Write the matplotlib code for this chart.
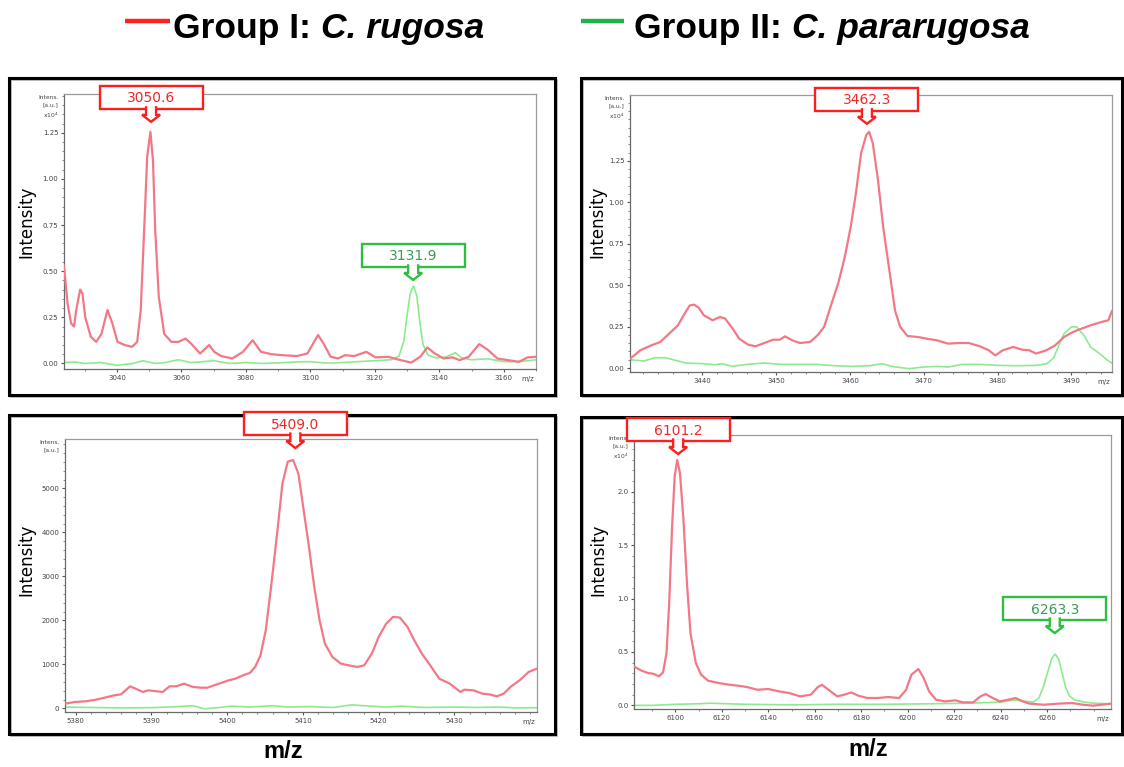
import numpy as np
import matplotlib
matplotlib.use("Agg")
import matplotlib.pyplot as plt
from matplotlib.patches import Rectangle, Polygon
from matplotlib.lines import Line2D
from matplotlib.transforms import IdentityTransform
from matplotlib.ticker import MultipleLocator, FixedLocator

# ---------------- data ----------------
legend_groups = ["Group I: ", "Group II: "]
legend_species = ["C. rugosa", "C. pararugosa"]

tl_red_mz = [3023.6, 3024.7, 3025.8, 3026.7, 3027.4, 3028.6, 3029.3, 3030.2, 3031.9, 3033.6, 3035.2, 3037.1, 3038.6, 3040.2, 3042.4, 3044.7, 3046.3, 3047.4, 3048.6, 3049.4, 3050.4, 3051.2, 3051.9, 3053.0, 3054.7, 3056.9, 3059.1, 3061.3, 3063.0, 3065.8, 3068.6, 3070.2, 3072.4, 3075.8, 3079.1, 3082.1, 3084.7, 3088.0, 3091.3, 3095.8, 3099.1, 3102.4, 3104.1, 3106.3, 3108.6, 3110.8, 3113.6, 3117.4, 3120.2, 3124.1, 3128.0, 3131.3, 3134.1, 3136.3, 3138.6, 3141.3, 3144.1, 3146.3, 3149.1, 3152.4, 3155.2, 3158.0, 3161.3, 3164.7, 3167.4, 3170.0]
tl_red_int = [0.53, 0.325, 0.217, 0.20, 0.29, 0.40, 0.38, 0.25, 0.145, 0.117, 0.16, 0.29, 0.217, 0.117, 0.10, 0.09, 0.117, 0.29, 0.78, 1.12, 1.255, 1.10, 0.72, 0.36, 0.16, 0.117, 0.117, 0.135, 0.108, 0.054, 0.10, 0.063, 0.04, 0.027, 0.063, 0.126, 0.063, 0.05, 0.045, 0.04, 0.054, 0.154, 0.108, 0.036, 0.027, 0.045, 0.04, 0.063, 0.033, 0.036, 0.018, 0.005, 0.036, 0.087, 0.054, 0.027, 0.033, 0.018, 0.036, 0.105, 0.072, 0.027, 0.018, 0.009, 0.033, 0.036]
tl_green_mz = [3023.6, 3027, 3030, 3035, 3040, 3045, 3048, 3052, 3055, 3059, 3063, 3067, 3070, 3075, 3080, 3085, 3090, 3095, 3100, 3105, 3110, 3115, 3120, 3125, 3127.5, 3129, 3130, 3131, 3132, 3133, 3134, 3135, 3136.5, 3139, 3142, 3145, 3147, 3150, 3155, 3160, 3165, 3170]
tl_green_int = [0.005, 0.008, 0.0, 0.005, -0.01, 0.0, 0.015, 0.0, 0.005, 0.02, 0.005, 0.01, 0.015, 0.0, 0.005, 0.0, 0.003, 0.008, 0.01, 0.002, 0.005, 0.01, 0.015, 0.02, 0.04, 0.12, 0.26, 0.38, 0.42, 0.37, 0.22, 0.1, 0.045, 0.03, 0.035, 0.058, 0.03, 0.02, 0.025, 0.01, 0.01, 0.02]

tr_red_mz = [3430.2, 3431.6, 3433.1, 3434.3, 3435.5, 3436.7, 3437.6, 3438.3, 3438.9, 3439.5, 3440.2, 3441.4, 3442.4, 3443.1, 3444.1, 3445.0, 3446.2, 3447.2, 3448.4, 3449.6, 3450.5, 3451.2, 3452.2, 3453.2, 3454.6, 3455.6, 3456.5, 3457.5, 3458.4, 3459.3, 3460.1, 3460.8, 3461.5, 3462.2, 3462.6, 3463.1, 3463.8, 3464.5, 3465.4, 3466.1, 3466.8, 3467.8, 3469.2, 3470.4, 3471.8, 3473.3, 3474.7, 3476.1, 3477.6, 3478.8, 3479.7, 3480.7, 3482.1, 3483.3, 3484.3, 3485.2, 3486.6, 3487.8, 3489.0, 3490.2, 3491.4, 3492.6, 3494.1, 3495.0, 3495.5]
tr_red_int = [0.056, 0.107, 0.137, 0.157, 0.207, 0.258, 0.328, 0.378, 0.382, 0.364, 0.318, 0.288, 0.308, 0.298, 0.238, 0.177, 0.141, 0.131, 0.151, 0.171, 0.171, 0.191, 0.167, 0.151, 0.157, 0.197, 0.248, 0.388, 0.509, 0.67, 0.851, 1.053, 1.294, 1.405, 1.425, 1.355, 1.133, 0.851, 0.57, 0.348, 0.248, 0.193, 0.187, 0.177, 0.167, 0.147, 0.151, 0.151, 0.131, 0.107, 0.076, 0.107, 0.127, 0.111, 0.107, 0.087, 0.107, 0.137, 0.187, 0.217, 0.238, 0.258, 0.278, 0.288, 0.344]
tr_green_mz = [3430.2, 3432.1, 3433.5, 3435.0, 3436.4, 3437.8, 3440.2, 3441.7, 3442.6, 3444.1, 3446.0, 3448.4, 3450.8, 3453.2, 3455.6, 3457.9, 3460.3, 3462.7, 3464.4, 3465.6, 3468.0, 3469.9, 3471.8, 3473.3, 3475.2, 3477.6, 3480.0, 3482.5, 3485.3, 3486.7, 3487.6, 3488.4, 3489.0, 3490.0, 3490.7, 3491.7, 3492.6, 3493.8, 3494.8, 3495.5]
tr_green_int = [0.05, 0.042, 0.062, 0.062, 0.046, 0.03, 0.026, 0.02, 0.026, 0.01, 0.022, 0.03, 0.022, 0.022, 0.022, 0.014, 0.01, 0.014, 0.026, 0.01, -0.004, 0.006, 0.01, 0.006, 0.022, 0.022, 0.016, 0.014, 0.016, 0.026, 0.062, 0.147, 0.207, 0.248, 0.248, 0.197, 0.127, 0.087, 0.05, 0.03]

bl_red_mz = [5378.6, 5379.9, 5381.3, 5382.7, 5384.2, 5385.1, 5386.0, 5386.6, 5387.2, 5387.9, 5388.9, 5389.6, 5390.3, 5391.5, 5392.4, 5393.3, 5394.3, 5395.5, 5396.4, 5397.4, 5398.3, 5399.2, 5400.2, 5401.1, 5402.1, 5403.0, 5403.7, 5404.4, 5405.1, 5405.8, 5406.6, 5407.3, 5408.0, 5408.7, 5409.4, 5410.1, 5410.8, 5411.5, 5412.2, 5412.9, 5413.9, 5415.0, 5416.0, 5417.2, 5418.1, 5419.1, 5420.0, 5421.0, 5421.9, 5422.8, 5423.8, 5424.7, 5425.7, 5426.8, 5428.0, 5429.4, 5430.8, 5431.3, 5432.5, 5433.7, 5434.6, 5435.6, 5436.5, 5437.5, 5438.6, 5439.8, 5440.9]
bl_red_int = [106, 144, 159, 197, 258, 296, 319, 410, 501, 448, 372, 410, 395, 372, 501, 501, 561, 486, 470, 470, 524, 577, 637, 675, 751, 804, 941, 1206, 1775, 2762, 3976, 5114, 5607, 5645, 5341, 4507, 3672, 2762, 2003, 1472, 1168, 1017, 979, 941, 979, 1244, 1624, 1927, 2079, 2064, 1851, 1548, 1244, 979, 675, 561, 372, 425, 410, 334, 319, 273, 334, 501, 637, 827, 903]
bl_green_mz = [5378.6, 5382, 5386, 5390, 5393, 5395.5, 5397, 5399, 5400.5, 5403, 5406, 5408, 5411, 5414, 5416.5, 5418, 5421, 5423, 5426, 5430, 5433, 5436, 5438, 5440.9]
bl_green_int = [30, 20, 10, 15, 35, 60, -10, 20, 50, 30, 60, 30, 40, 20, 80, 60, 30, 50, 20, 30, 20, 30, 10, 15]

br_red_mz = [6082.2, 6085.2, 6088.3, 6090.6, 6092.9, 6094.7, 6096.2, 6097.4, 6098.6, 6099.7, 6100.8, 6102.0, 6103.5, 6105.0, 6106.5, 6108.8, 6111.1, 6114.1, 6118.7, 6123.3, 6127.1, 6130.9, 6135.4, 6140.0, 6144.6, 6149.1, 6153.7, 6158.3, 6161.3, 6163.1, 6165.9, 6169.7, 6172.7, 6175.7, 6178.8, 6182.6, 6187.1, 6191.7, 6196.3, 6199.3, 6201.6, 6204.6, 6206.9, 6209.2, 6212.2, 6216.0, 6220.6, 6223.7, 6228.2, 6231.3, 6233.5, 6236.6, 6239.6, 6243.3, 6246.5, 6249.5, 6252.5, 6258.6, 6264.7, 6270.8, 6275.4, 6279.9, 6287.5]
br_red_int = [0.364, 0.327, 0.302, 0.296, 0.271, 0.308, 0.489, 0.988, 1.673, 2.14, 2.296, 2.171, 1.735, 1.143, 0.676, 0.396, 0.287, 0.231, 0.209, 0.193, 0.184, 0.171, 0.146, 0.153, 0.131, 0.115, 0.084, 0.1, 0.171, 0.193, 0.146, 0.084, 0.1, 0.121, 0.09, 0.069, 0.069, 0.078, 0.069, 0.146, 0.287, 0.34, 0.255, 0.131, 0.053, 0.037, 0.047, 0.028, 0.028, 0.084, 0.106, 0.069, 0.037, 0.053, 0.069, 0.037, 0.016, 0.006, 0.016, 0.022, 0.006, -0.003, 0.016]
br_green_mz = [6082.2, 6090, 6100, 6110, 6115, 6130, 6150, 6170, 6190, 6210, 6225, 6240, 6246, 6250, 6254, 6256.5, 6258.5, 6260.5, 6262, 6263.5, 6265, 6266.5, 6268, 6269.5, 6272, 6276, 6280, 6287.5]
br_green_int = [0.0, 0.0, 0.01, 0.015, 0.02, 0.01, 0.005, 0.01, 0.01, 0.015, 0.02, 0.03, 0.05, 0.04, 0.03, 0.07, 0.18, 0.33, 0.44, 0.48, 0.43, 0.3, 0.17, 0.09, 0.05, 0.03, 0.02, 0.015]

tl_xticks = [3040, 3060, 3080, 3100, 3120, 3140, 3160]
tr_xticks = [3440, 3450, 3460, 3470, 3480, 3490]
bl_xticks = [5380, 5390, 5400, 5410, 5420, 5430]
br_xticks = [6100, 6120, 6140, 6160, 6180, 6200, 6220, 6240, 6260]
tl_yticks = [0.0, 0.25, 0.5, 0.75, 1.0, 1.25]
tr_yticks = [0.0, 0.25, 0.5, 0.75, 1.0, 1.25]
bl_yticks = [0, 1000, 2000, 3000, 4000, 5000]
br_yticks = [0.0, 0.5, 1.0, 1.5, 2.0]

tl_peaks = [("3050.6", 3050.6, "red"), ("3131.9", 3131.9, "green")]
tr_peaks = [("3462.3", 3462.3, "red")]
bl_peaks = [("5409.0", 5409.0, "red")]
br_peaks = [("6101.2", 6101.2, "red"), ("6263.3", 6263.3, "green")]

# ---------------- style ----------------
W, H = 1124, 767
RED_LINE = "#f27887"
GREEN_LINE = "#8eea8e"
CALL = {"red": ("#ff1e1e", "#f02828"), "green": ("#2fbf3f", "#3a9a5a")}

fig = plt.figure(figsize=(W / 100, H / 100), dpi=100)
fig.patch.set_facecolor("white")

def px_ax(x0, y0, x1, y1):
    return [x0 / W, 1 - y1 / H, (x1 - x0) / W, (y1 - y0) / H]

panels = [
    dict(box=(9, 78, 555, 395), ax=(64, 94, 536, 369),
         xlim=(3023.6, 3170.0), ylim=(-0.03, 1.46),
         red=(tl_red_mz, tl_red_int), green=(tl_green_mz, tl_green_int),
         xt=tl_xticks, yt=tl_yticks, xminor=10, yminor=0.05, fmt="{:.2f}",
         intens="Intens.\n[a.u.]\nx10$^4$", ylab=(26, 222),
         peaks=tl_peaks, gaps=[10, 6]),
    dict(box=(581, 78, 1122, 395), ax=(630, 95, 1112, 372),
         xlim=(3430.2, 3495.5), ylim=(-0.024, 1.647),
         red=(tr_red_mz, tr_red_int), green=(tr_green_mz, tr_green_int),
         xt=tr_xticks, yt=tr_yticks, xminor=2, yminor=0.05, fmt="{:.2f}",
         intens="Intens.\n[a.u.]\nx10$^4$", ylab=(597, 222),
         peaks=tr_peaks, gaps=[8]),
    dict(box=(9, 415, 555, 734), ax=(65, 439, 537, 712),
         xlim=(5378.6, 5440.9), ylim=(-83, 6123),
         red=(bl_red_mz, bl_red_int), green=(bl_green_mz, bl_green_int),
         xt=bl_xticks, yt=bl_yticks, xminor=2, yminor=200, fmt="{:.0f}",
         intens="Intens.\n[a.u.]", ylab=(26, 560),
         peaks=bl_peaks, gaps=[12]),
    dict(box=(581, 417, 1122, 734), ax=(634, 435, 1111, 709),
         xlim=(6082.2, 6287.5), ylim=(-0.034, 2.53),
         red=(br_red_mz, br_red_int), green=(br_green_mz, br_green_int),
         xt=br_xticks, yt=br_yticks, xminor=10, yminor=0.1, fmt="{:.1f}",
         intens="Intens.\n[a.u.]\nx10$^4$", ylab=(598, 560),
         peaks=br_peaks, gaps=[6, 21]),
]

ID = IdentityTransform()

def callout(ax, label, xval, color_key, gap, mz, inten):
    mz = np.asarray(mz); inten = np.asarray(inten)
    sel = np.abs(mz - xval) <= 2.0
    ypk = inten[sel].max()
    tx, ty = ax.transData.transform((xval, ypk))
    ty += gap
    ec, tc = CALL[color_key]
    bw, bh, stem = 103, 23, 13
    bx0, by0 = tx - bw / 2, ty + stem
    fig.add_artist(Rectangle((bx0, by0), bw, bh, transform=ID, facecolor="white",
                             edgecolor=ec, lw=1.7, zorder=10))
    fig.text(tx, by0 + bh / 2 - 1, label, transform=ID, ha="center", va="center",
             fontsize=10, color=tc, zorder=11)
    shape = [(-5, 14.5), (-5, 7), (-9, 7), (0, 0), (9, 7), (5, 7), (5, 14.5)]
    xs = [tx + p[0] for p in shape]
    ys = [ty + p[1] for p in shape]
    fig.add_artist(Polygon(list(zip(xs, ys)), closed=True, transform=ID,
                           facecolor="white", edgecolor="none", zorder=12))
    fig.add_artist(Line2D(xs, ys, transform=ID, color=ec, lw=1.7, zorder=13,
                          solid_joinstyle="miter"))

for p in panels:
    x0, y0, x1, y1 = p["box"]
    fig.add_artist(Rectangle((x0 + 2, H - y1 - 2), x1 - x0, y1 - y0, transform=ID,
                             facecolor="none", edgecolor="#b0b0b0", lw=1.2, zorder=4))
    fig.add_artist(Rectangle((x0, H - y1), x1 - x0, y1 - y0, transform=ID,
                             facecolor="none", edgecolor="black", lw=2.2, zorder=5))
    ax = fig.add_axes(px_ax(*p["ax"]))
    ax.plot(p["green"][0], p["green"][1], color=GREEN_LINE, lw=1.2, zorder=2)
    ax.plot(p["red"][0], p["red"][1], color=RED_LINE, lw=1.6, zorder=3)
    ax.set_xlim(*p["xlim"])
    ax.set_ylim(*p["ylim"])
    ax.xaxis.set_major_locator(FixedLocator(p["xt"]))
    ax.yaxis.set_major_locator(FixedLocator(p["yt"]))
    ax.xaxis.set_minor_locator(MultipleLocator(p["xminor"]))
    ax.yaxis.set_minor_locator(MultipleLocator(p["yminor"]))
    ax.set_xticklabels([str(v) for v in p["xt"]])
    ax.set_yticklabels([p["fmt"].format(v) for v in p["yt"]])
    ax.tick_params(which="major", direction="out", length=2.5, width=0.8,
                   color="#555555", labelsize=5, labelcolor="#444444", pad=1.5)
    ax.tick_params(which="minor", direction="out", length=1.5, width=0.6,
                   color="#777777")
    for s in ("left", "bottom"):
        ax.spines[s].set_color("#6a6a6a")
        ax.spines[s].set_linewidth(0.9)
    for s in ("top", "right"):
        ax.spines[s].set_color("#9a9a9a")
        ax.spines[s].set_linewidth(0.9)
    ax.annotate("m/z", xy=(1, 0), xycoords="axes fraction", xytext=(-1, -5),
                textcoords="offset points", ha="right", va="top",
                fontsize=5, color="#444444")
    ax.annotate(p["intens"], xy=(0, 1), xycoords="axes fraction", xytext=(-4, -1),
                textcoords="offset points", ha="right", va="top",
                fontsize=4.3, color="#444444", linespacing=1.5)
    fig.text(p["ylab"][0], H - p["ylab"][1], "Intensity", transform=ID,
             rotation=90, ha="center", va="center", fontsize=12, color="black")
    for (label, xval, ck), gap in zip(p["peaks"], p["gaps"]):
        src = p["red"] if ck == "red" else p["green"]
        callout(ax, label, xval, ck, gap, src[0], src[1])

# x-axis titles
fig.text(283, H - 752, "m/z", transform=ID, ha="center", va="center",
         fontsize=17, fontweight="bold", family="Liberation Sans")
fig.text(868, H - 750, "m/z", transform=ID, ha="center", va="center",
         fontsize=17, fontweight="bold", family="Liberation Sans")

# legend
renderer = fig.canvas.get_renderer()
leg = [((125, 170), 173, legend_groups[0], legend_species[0], "#ff2020"),
       ((581, 624), 634, legend_groups[1], legend_species[1], "#1db34a")]
for (lx0, lx1), tx, grp, sp, col in leg:
    fig.add_artist(Line2D([lx0, lx1], [H - 21, H - 21], transform=ID,
                          color=col, lw=3.2, solid_capstyle="butt"))
    t1 = fig.text(tx, H - 38, grp, transform=ID, ha="left", va="baseline",
                  fontsize=25.5, fontweight="bold", family="Liberation Sans")
    bb = t1.get_window_extent(renderer=renderer)
    fig.text(bb.x1, H - 38, sp, transform=ID, ha="left", va="baseline",
             fontsize=25.5, fontweight="bold", style="italic", family="Liberation Sans")

fig.savefig("out.png", dpi=100, facecolor="white")
